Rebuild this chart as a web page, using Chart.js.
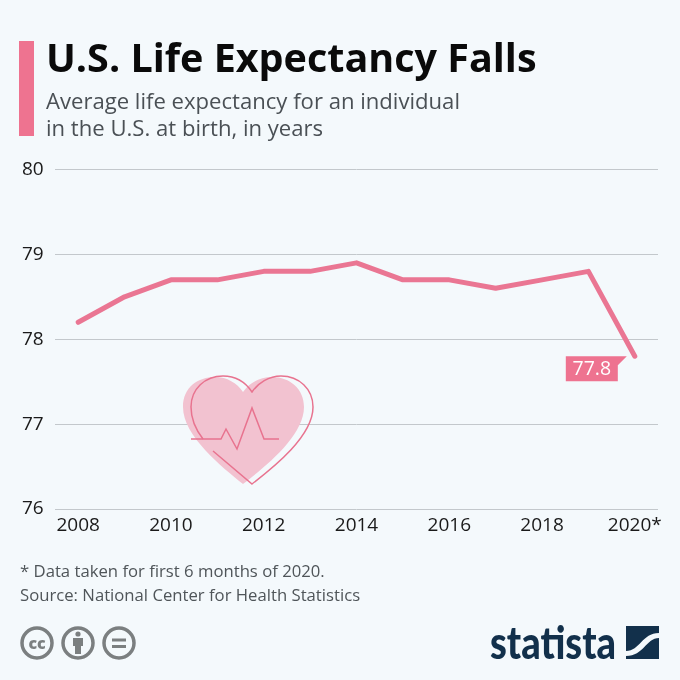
<!DOCTYPE html>
<html>
<head>
<meta charset="utf-8">
<title>U.S. Life Expectancy Falls</title>
<script src="https://cdn.jsdelivr.net/npm/chart.js@4/dist/chart.umd.min.js"></script>
<style>
    html, body { margin: 0; padding: 0; background: #f4f9fc; }
    #page { position: relative; width: 680px; height: 680px; overflow: hidden; font-family: "Open Sans", sans-serif; background: #f4f9fc; }
    #page canvas, #page svg { position: absolute; left: 0; top: 0; }
    .bar { position: absolute; left: 19px; top: 41px; width: 15px; height: 95px; background: #ee7390; }
    h1 { position: absolute; left: 46px; top: 32px; margin: 0; font-size: 39.5px; line-height: 50px; font-weight: 700; color: #0a0a0a; white-space: nowrap; }
    .sub { position: absolute; left: 46px; top: 87px; font-size: 22.1px; line-height: 27px; color: #4a5055; white-space: nowrap; }
    .foot { position: absolute; left: 20px; top: 559px; font-size: 16.7px; line-height: 24px; color: #4f5559; white-space: nowrap; }
</style>
</head>
<body>
<div id="page">
    <canvas id="lifeChart" width="680" height="680"></canvas>
    <div class="bar"></div>
    <h1>U.S. Life Expectancy Falls</h1>
    <div class="sub">Average life expectancy for an individual<br>in the U.S. at birth, in years</div>
    <div class="foot">* Data taken for first 6 months of 2020.<br>Source: National Center for Health Statistics</div>

    <svg width="680" height="680" viewBox="0 0 680 680">
        <!-- coeur -->
        <path d="M243 484 C222 467 183 436 183 407 C183 387 198 377 215 377 C227 377 237 383 243 392 C249 383 260 377 272 377 C290 377 304 389 304 407 C304 436 265 467 243 484 Z" fill="#f2c2d0"/>
        <path d="M213 451 L252 484 C274 467 313 436 313 407 C313 389 299 376 281 376 C269 376 258 383 252 392 C246 383 236 376 223 376 C205 376 191 389 191 407 C191 420 196 430 203 439" fill="none" stroke="#e8738f" stroke-width="1.5"/>
        <path d="M191 439 L221 439 L226 429 L237 449 L252 408 L264 439 L279 439" fill="none" stroke="#e8738f" stroke-width="1.5"/>

        <!-- licence -->
        <g fill="none" stroke="#7b7f80" stroke-width="3.5">
            <circle cx="37" cy="643" r="15"/>
            <circle cx="78" cy="643" r="15"/>
            <circle cx="119" cy="643" r="15"/>
        </g>
        <text x="37" y="648.500" text-anchor="middle" font-family="Open Sans" font-weight="800" font-size="16" fill="#7b7f80">cc</text>
        <circle cx="78" cy="634" r="2.6" fill="#7b7f80"/>
        <path d="M73 638 H83 V646 H81 V654 H75 V646 H73 Z" fill="#7b7f80"/>
        <path d="M112 638.500 H126 V641.500 H112 Z M112 645 H126 V648 H112 Z" fill="#7b7f80"/>

        <!-- logo -->
        <text x="490" y="659" font-family="Lato" font-weight="900" font-size="46" fill="#12304b" textLength="126" lengthAdjust="spacingAndGlyphs">statista</text>
        <rect x="626" y="626" width="33" height="33" fill="#12304b"/>
        <path d="M626 651 C640 651 642 633 659 633 V638 C646 638 644 656 626 656 Z" fill="#f4f9fc"/>
    </svg>
</div>

<script>
// Données
const years = ['2008', '2009', '2010', '2011', '2012', '2013', '2014', '2015', '2016', '2017', '2018', '2019', '2020*'];
const lifeExpectancy = [78.2, 78.5, 78.7, 78.7, 78.8, 78.8, 78.9, 78.7, 78.7, 78.6, 78.7, 78.8, 77.8];
const yTicks = [76, 77, 78, 79, 80];

const pink = '#ea7693';
const tickFont = { family: 'Open Sans', size: 19 };

// Étiquette de la dernière valeur (77.8)
const lastLabelPlugin = {
    id: 'lastLabel',
    afterDatasetsDraw(chart) {
        const pt = chart.getDatasetMeta(0).data[lifeExpectancy.length - 1];
        const ctx = chart.ctx;
        const x = pt.x, y = pt.y;
        ctx.save();
        ctx.fillStyle = '#ee7390';
        ctx.beginPath();
        ctx.moveTo(x - 69, y);
        ctx.lineTo(x - 8, y);
        ctx.lineTo(x - 17, y + 9);
        ctx.lineTo(x - 17, y + 25);
        ctx.lineTo(x - 69, y + 25);
        ctx.closePath();
        ctx.fill();
        ctx.fillStyle = '#ffffff';
        ctx.font = '19.5px "Open Sans"';
        ctx.textAlign = 'center';
        ctx.textBaseline = 'middle';
        ctx.fillText(lifeExpectancy[lifeExpectancy.length - 1].toFixed(1), x - 43, y + 13);
        ctx.restore();
    }
};

new Chart(document.getElementById('lifeChart').getContext('2d'), {
    type: 'line',
    data: {
        labels: years,
        datasets: [{
            data: lifeExpectancy,
            borderColor: pink,
            borderWidth: 5,
            borderCapStyle: 'round',
            borderJoinStyle: 'round',
            pointRadius: 0,
            tension: 0,
            clip: false
        }]
    },
    options: {
        responsive: false,
        animation: false,
        devicePixelRatio: 1,
        layout: { padding: { left: 22, right: 22, top: 169.5, bottom: 141 } },
        plugins: { legend: { display: false }, tooltip: { enabled: false } },
        scales: {
            x: {
                type: 'category',
                offset: true,
                afterFit: scale => { scale.height = 30; },
                grid: { display: false, drawTicks: false },
                border: { display: false },
                ticks: {
                    autoSkip: false,
                    maxRotation: 0,
                    padding: 5,
                    color: '#1a1a1a',
                    font: tickFont,
                    callback: (v, i) => (i % 2 === 0 ? years[i] : '')
                }
            },
            y: {
                min: 76,
                max: 80,
                afterFit: scale => { scale.width = 33; },
                afterBuildTicks: scale => { scale.ticks = yTicks.map(v => ({ value: v })); },
                grid: { color: '#c3c8cc', lineWidth: 1, drawTicks: false },
                border: { display: false },
                ticks: { crossAlign: 'far', padding: 0, color: '#1a1a1a', font: tickFont }
            }
        }
    },
    plugins: [lastLabelPlugin]
});
</script>
</body>
</html>
